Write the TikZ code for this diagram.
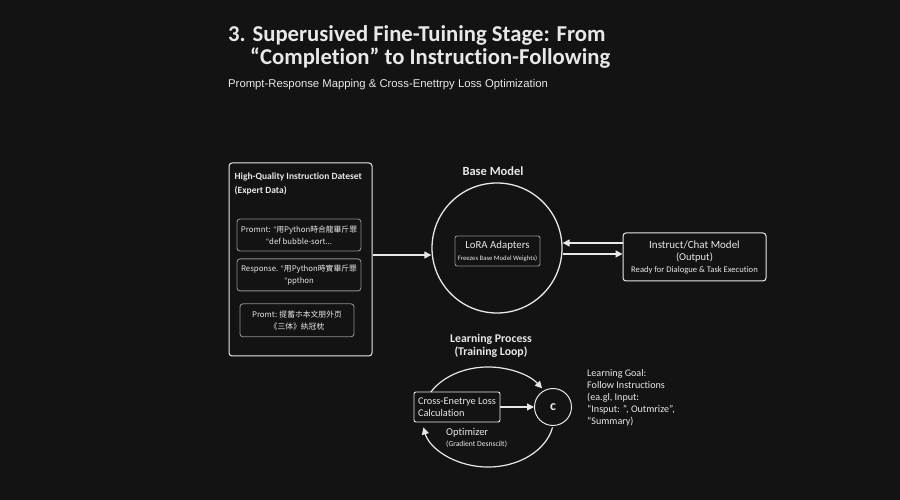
\documentclass[tikz,border=0pt]{standalone}
\usepackage{fontspec}
\setmainfont{Carlito}[Ligatures=NoCommon]
\newfontfamily\subfont{Liberation Sans}
\newfontfamily\cjk{Noto Sans CJK SC}
\usepackage{xcolor}
\usepackage{tikz}
\usetikzlibrary{arrows.meta,positioning,calc}
\definecolor{bgdark}{HTML}{131313}
\definecolor{linegray}{HTML}{E8E8E8}
\definecolor{boxgray}{HTML}{8E8E8E}
\newcommand{\fs}[2]{\fontsize{#1}{#2}\selectfont}

\begin{document}
\begin{tikzpicture}[
  x=1pt, y=1pt,
  every node/.style={text=linegray},
  txt/.style={inner sep=0pt},
  panel/.style={draw=linegray, line width=1pt, rounded corners=3pt},
  entry/.style={draw=boxgray, line width=0.9pt, rounded corners=3pt, align=center, inner sep=0pt, font=\cjk\fs{7.8}{12}},
  inbox/.style={draw=boxgray, line width=0.9pt, rounded corners=2pt, inner sep=0pt},
  arr/.style={-{Triangle[length=7pt,width=7pt]}, draw=linegray, line width=1.2pt}
]
\fill[bgdark] (0,0) rectangle (900,500);
\useasboundingbox (0,0) rectangle (900,500);

\node[txt, anchor=west, font=\bfseries\fs{22.7}{26}] (title) at (228,465) {3. Superusived Fine-Tuining Stage: From};
\node[txt, anchor=west, font=\bfseries\fs{22.7}{26}] (title2) at (250,442) {“Completion” to Instruction-Following};
\node[txt, anchor=west, font=\subfont\fs{11.3}{13}] (sub) at (228,415) {Prompt-Response Mapping \& Cross-Enettrpy Loss Optimization};

\node[panel, minimum width=143pt, minimum height=193pt] (data) at (300.5,240.5) {};
\node[txt, anchor=north west, align=left, font=\bfseries\fs{9.5}{14}] (datatitle) at ([xshift=6pt,yshift=-10pt]data.north west) {High-Quality Instruction Dateset\\(Expert Data)};
\node[entry, minimum width=124pt, minimum height=32pt] (p1) at (299,265) {Promnt: {\rmfamily“}用Python時合龍畢斤罪\\{\rmfamily“}def bubble-sort...};
\node[entry, minimum width=124pt, minimum height=32pt, below=7pt of p1] (p2) {Response. {\rmfamily“}用Python時實畢斤罪\\{\rmfamily“}ppthon};
\node[entry, minimum width=114pt, minimum height=33pt, below=12pt of p2, xshift=-2pt] (p3) {Promt: 提蓄ホ本文朋外页\\《三体》紈冠枕};

\node[circle, draw=linegray, line width=1.3pt, minimum size=130pt] (base) at (497,252) {};
\node[txt, font=\bfseries\fs{12.5}{14}, above=7pt of base, xshift=-4pt] (basetitle) {Base Model};
\node[inbox, minimum width=85pt, minimum height=30pt, align=center] (lora) at (497.5,249) {{\fs{10.8}{12}LoRA Adapters}\\{\fs{6.7}{9}Freezes Base Model Weights)}};

\node[panel, minimum width=143pt, minimum height=48pt, align=center, inner sep=0pt] (out) at (694.5,243) {{\fs{11}{12}Instruct/Chat Model}\\{\fs{10.5}{12}(Output)}\\{\fs{8.6}{12}Ready for Dialogue \& Task Execution}};

\draw[arr] ([yshift=4.5pt]data.east) -- ([yshift=4.5pt]data.east -| base.west);
\draw[arr] ([yshift=14pt]out.west) -- ([yshift=14pt]out.west -| base.east);
\draw[arr] ([yshift=3pt]out.west -| base.east) -- ([yshift=3pt]out.west);

\node[txt, align=center, font=\bfseries\fs{11.8}{12.5}] (looptitle) at (491,154) {Learning Process\\(Training Loop)};
\coordinate (loopc) at (488,83);
\draw[arr] ($(loopc)+(150:66pt and 50pt)$) arc[start angle=150, end angle=35, x radius=66pt, y radius=50pt];
\draw[arr] ($(loopc)+(-12:66pt and 50pt)$) arc[start angle=-12, end angle=-168, x radius=66pt, y radius=50pt];
\node[circle, draw=linegray, line width=1pt, minimum size=37pt, inner sep=0pt, font=\bfseries\fs{14}{14}] (goal) at (553,93) {c};
\node[inbox, draw=linegray, minimum width=86pt, minimum height=30pt, align=left, font=\fs{10.3}{12.5}] (loss) at (457,93) {Cross-Enetrye Loss\\Calculation};
\draw[arr] (loss.east) -- (goal.west);
\node[txt, anchor=north west, align=left, font=\fs{10.5}{11.5}] (optim) at (446,72) {Optimizer\\{\fs{7.6}{11}(Gradient Desnscilt)}};
\node[txt, anchor=north west, align=left, font=\fs{10.1}{12}] (goaltext) at (587,131) {Learning Goal:\\Follow Instructions\\(ea.gl, Input:\\“Insput: ”, Outmrize”,\\“Summary)};
\end{tikzpicture}
\end{document}
